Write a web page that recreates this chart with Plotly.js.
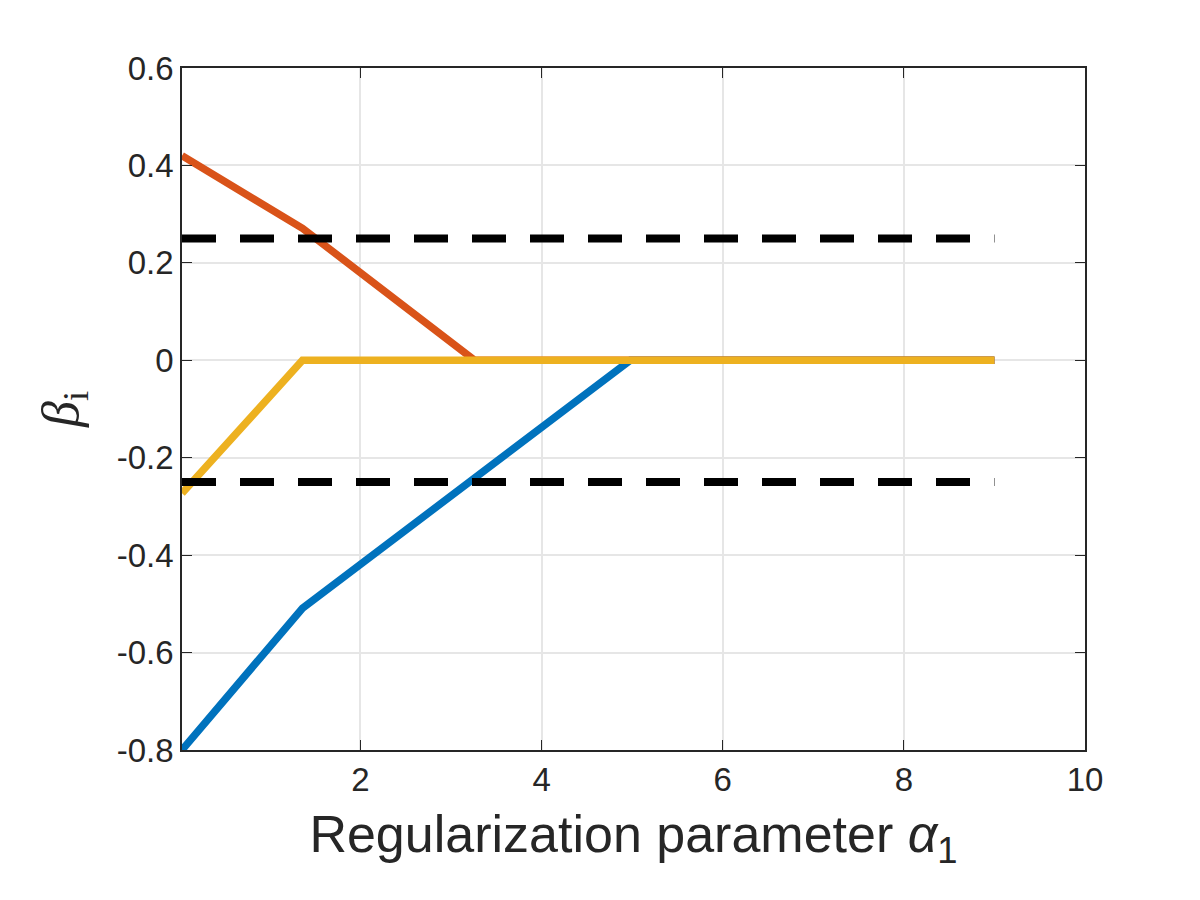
<!DOCTYPE html>
<html>
<head>
<meta charset="utf-8">
<script src="https://cdn.plot.ly/plotly-3.0.1.min.js"></script>
<style>body{margin:0;background:#fff}</style>
</head>
<body>
<div id="chart" style="width:1200px;height:900px"></div>
<script>
// regularization path of coefficients
var alphaBlue = [0.03, 1.36, 4.98, 9];
var betaBlue = [-0.8, -0.509, 0, 0];
var alphaRed = [0.03, 1.36, 3.26, 9];
var betaRed = [0.42, 0.271, 0, 0];
var alphaYellow = [0.03, 1.36, 9];
var betaYellow = [-0.273, 0, 0];
var alphaBound = [0.03, 9];
var upperBound = [0.25, 0.25];
var lowerBound = [-0.25, -0.25];

var lw = 7.5;
var dash = '34px,24px';
var data = [
  {x: alphaBlue, y: betaBlue, mode: 'lines', line: {color: '#0072BD', width: lw}},
  {x: alphaRed, y: betaRed, mode: 'lines', line: {color: '#D95319', width: lw}},
  {x: alphaYellow, y: betaYellow, mode: 'lines', line: {color: '#EDB120', width: lw}},
  {x: alphaBound, y: upperBound, mode: 'lines', line: {color: '#000', width: lw + 0.5, dash: dash}},
  {x: alphaBound, y: lowerBound, mode: 'lines', line: {color: '#000', width: lw + 0.5, dash: dash}}
];

var axisCommon = {
  showgrid: true,
  gridcolor: '#e6e6e6',
  gridwidth: 1.5,
  showline: true,
  linecolor: '#262626',
  linewidth: 1.5,
  mirror: 'ticks',
  ticks: 'inside',
  ticklen: 10,
  tickcolor: '#262626',
  zeroline: false,
  tickfont: {family: 'Liberation Sans, Arial', size: 33, color: '#262626'}
};

var layout = {
  paper_bgcolor: '#fff',
  plot_bgcolor: '#fff',
  showlegend: false,
  margin: {l: 182, r: 115, t: 68, b: 150},
  xaxis: Object.assign({}, axisCommon, {
    range: [0.03, 10],
    tickvals: [2, 4, 6, 8, 10],
    title: {text: 'Regularization parameter <i>α</i><sub>1</sub>', font: {family: 'Liberation Sans, Arial', size: 52, color: '#262626'}, standoff: 18}
  }),
  yaxis: Object.assign({}, axisCommon, {
    range: [-0.8, 0.6],
    tickvals: [-0.8, -0.6, -0.4, -0.2, 0, 0.2, 0.4, 0.6],
    ticktext: ['-0.8', '-0.6', '-0.4', '-0.2', '0', '0.2', '0.4', '0.6'],
    title: {text: '<i>β</i><sub>i</sub>', font: {family: 'Liberation Serif, serif', size: 52, color: '#262626'}, standoff: 22}
  })
};

Plotly.newPlot('chart', data, layout, {displayModeBar: false});
</script>
</body>
</html>
